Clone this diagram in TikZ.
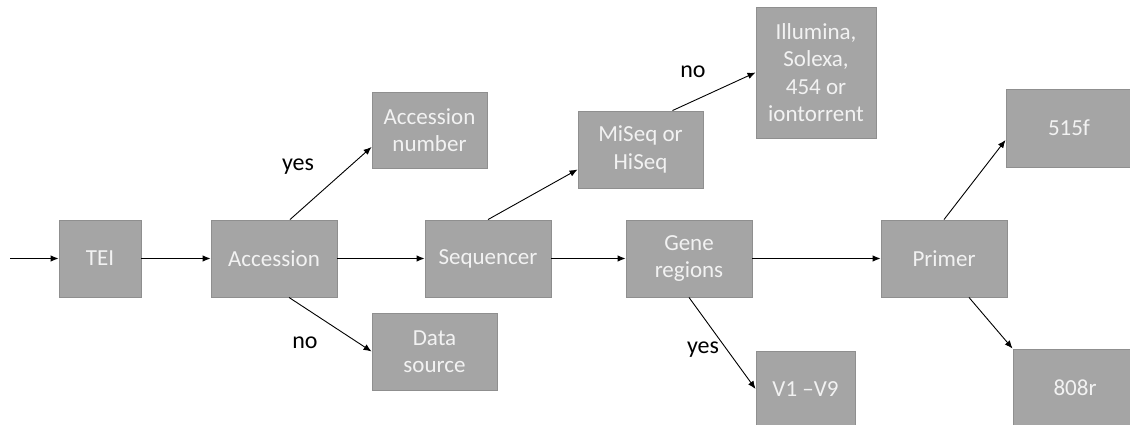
\documentclass[tikz,border=0pt]{standalone}
\usepackage{fontspec}
\setmainfont{Carlito}
\usetikzlibrary{arrows.meta}
\definecolor{boxgray}{HTML}{A5A5A5}
\definecolor{boxline}{HTML}{8F8F8F}
\definecolor{boxtext}{HTML}{F2F2F2}

\begin{document}
\begin{tikzpicture}[x=1pt,y=-1pt,-{Latex[length=8pt,width=6.5pt]},line width=0.9pt]
  \tikzstyle{box}=[rectangle,draw=boxline,fill=boxgray,text=boxtext,align=center,inner sep=0pt,
    minimum width=126pt,minimum height=77pt,font=\fontsize{23}{27.5}\selectfont]
  \tikzstyle{lbl}=[font=\fontsize{24}{28}\selectfont]
  \path[-,use as bounding box] (0,0) rectangle (1130,425);
  \clip[-] (0,0) rectangle (1130,425);
  \coordinate (in) at (10,258.5);
  \node[box,minimum width=82pt] (tei) at (100,258.5) {TEI};
  \node[box] (acc) at (274,258.5) {Accession};
  \node[box,minimum width=115pt,minimum height=76pt] (accnum) at (429.5,130) {Accession\\number};
  \node[box,minimum width=125pt] (datasrc) at (434.5,351.5) {Data\\source};
  \node[box] (seq) at (488,258.5) {Sequencer};
  \node[box,minimum width=125pt] (miseq) at (640.5,149.5) {MiSeq or\\HiSeq};
  \node[box,minimum width=120pt,minimum height=131pt] (illum) at (816,72.5) {Illumina,\\Solexa,\\454 or\\iontorrent};
  \node[box] (gene) at (689,258.5) {Gene\\regions};
  \node[box,minimum width=99pt,minimum height=76pt] (vreg) at (805.5,389) {V1 --V9};
  \node[box] (primer) at (944,258.5) {Primer};
  \node[box,minimum height=78pt] (fwd) at (1069,128) {515f};
  \node[box,minimum width=124pt,minimum height=78pt] (rev) at (1075,388) {808r};
  \draw (in) -- (tei);
  \draw (tei) -- (acc);
  \draw (acc) -- (seq);
  \draw (seq) -- (gene);
  \draw (gene) -- (primer);
  \draw ([xshift=16pt]acc.north) -- ([yshift=-17pt]accnum.west);
  \draw ([xshift=15pt]acc.south) -- (datasrc.west);
  \draw (seq.north) -- ([yshift=-20pt]miseq.west);
  \draw ([xshift=32pt]miseq.north) -- (illum.west);
  \draw (gene.south) -- (vreg.west);
  \draw (primer.north) -- ([yshift=-12pt]fwd.west);
  \draw ([xshift=25pt]primer.south) -- (rev.north west);
  \node[lbl] (accyes) at (298,167) {yes};
  \node[lbl] (accno) at (305,343) {no};
  \node[lbl] (seqno) at (693,72) {no};
  \node[lbl] (geneyes) at (703,350) {yes};
\end{tikzpicture}
\end{document}
